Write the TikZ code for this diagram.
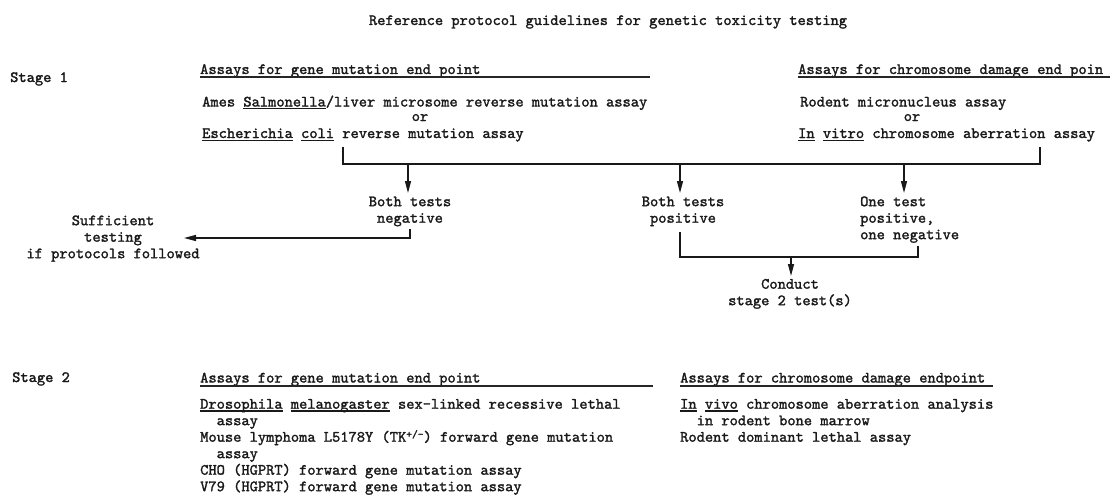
\documentclass[tikz,border=0pt]{standalone}
\usepackage{fontspec}
\usetikzlibrary{arrows.meta}

% typewriter face, inked a little heavier
\newfontfamily\twfont{lmmono10-regular.otf}[FakeBold=1.6]

% underlined word, typewriter style
\newcommand\uw[1]{\setbox0=\hbox{#1}\rlap{\rule[-2.8pt]{\wd0}{1.1pt}}\box0\relax}
% fixed top for multi-line blocks
\newcommand\topline{\rule{0pt}{10pt}}

\tikzset{
  tw/.style={inner sep=0pt, text=black!90,
    font=\twfont\bfseries\fontsize{15.7}{16.5}\selectfont},
  blockc/.style={tw, align=center, anchor=north},
  blockl/.style={tw, align=left, anchor=north west},
  wire/.style={draw=black!90, line width=1.4pt},
  flow/.style={wire, -{Triangle[length=12pt,width=6pt]}},
  rulebar/.style={draw=black!85, line width=1.2pt}
}

\begin{document}
\begin{tikzpicture}[x=1pt,y=-1pt]
\useasboundingbox[fill=white] (0,0) rectangle (1110,495);

% title
\node[tw, anchor=base] (title) at (608,25) {Reference protocol guidelines for genetic toxicity testing};

% ---- stage 1 ----
\node[tw, anchor=base west] (stage1) at (10,82) {Stage 1};
\node[tw, anchor=base west] (gm1) at (200,74) {Assays for gene mutation end point};
\draw[rulebar] ([yshift=-3pt]gm1.base west) -- ++(450,0);
\node[tw, anchor=base west] (cd1) at (798,74) {Assays for chromosome damage end poin};
\draw[rulebar] ([yshift=-3pt]cd1.base west) -- ++(312,0);

\node[tw, anchor=base west] (ames) at (202,106.5) {Ames \uw{Salmonella}/liver microsome reverse mutation assay};
\node[tw, anchor=base] (or1) at (420,121) {or};
\node[tw, anchor=base west] (esch) at (202,138) {\uw{Escherichia} \uw{coli} reverse mutation assay};

\node[tw, anchor=base west] (rodent) at (800,106.5) {Rodent micronucleus assay};
\node[tw, anchor=base] (or2) at (912,121) {or};
\node[tw, anchor=base west] (invitro) at (798,138) {\uw{In} \uw{vitro} chromosome aberration assay};

% joining bracket under both assay groups
\coordinate (bl) at (343,147);
\coordinate (br) at (1040,147);
\coordinate (jl) at (343,164);
\coordinate (jr) at (1040,164);
\draw[wire] (bl) -- (jl) -- (jr) -- (br);

% outcomes
\node[blockc] (neg) at (410,196) {\topline Both tests\\negative};
\node[blockc] (pos) at (683,196) {\topline Both tests\\positive};
\node[blockl] (one) at (860,196) {\topline One test\\positive,\\one negative};
\node[blockc] (suff) at (113,215) {\topline Sufficient\\testing\\if protocols followed};

\coordinate (tneg) at (408,164);
\coordinate (tpos) at (680,164);
\coordinate (tone) at (904,164);
\draw[flow] (tneg) -- (408,193);
\draw[flow] (tpos) -- (680,193);
\draw[flow] (tone) -- (904,193);

% negative branch: stop
\coordinate (nk) at (410,238);
\coordinate (suffin) at (184,238);
\draw[flow] (410,229) -- (nk) -- (suffin);

% positive branches: go to stage 2
\node[blockc] (conduct) at (790,278.5) {\topline Conduct\\stage 2 test(s)};
\coordinate (pk) at (680,257);
\coordinate (ok) at (918,257);
\coordinate (ck) at (791,257);
\draw[wire] (680,232) -- (pk) -- (ok) -- (918,246);
\draw[flow] (ck) -- (791,276);

% ---- stage 2 ----
\node[tw, anchor=base west] (stage2) at (12,382) {Stage 2};
\node[tw, anchor=base west] (gm2) at (200,382.5) {Assays for gene mutation end point};
\draw[rulebar] ([yshift=-3.5pt]gm2.base west) -- ++(453,0);
\node[tw, anchor=base west] (cd2) at (680,382.5) {Assays for chromosome damage endpoint};
\draw[rulebar] ([yshift=-3.5pt]cd2.base west) -- ++(313,0);

\node[blockl] (gmlist) at (200,398.5) {\topline \uw{Drosophila} \uw{melanogaster} sex-linked recessive lethal\\
\ \ assay\\
Mouse lymphoma L5178Y (TK\raisebox{4pt}{\fontsize{11}{11}\selectfont+/-}) forward gene mutation\\
\ \ assay\\
CHO (HGPRT) forward gene mutation assay\\
V79 (HGPRT) forward gene mutation assay};

\node[blockl] (cdlist) at (680,398.5) {\topline \uw{In} \uw{vivo} chromosome aberration analysis\\
\ \ in rodent bone marrow\\
Rodent dominant lethal assay};

\end{tikzpicture}
\end{document}
